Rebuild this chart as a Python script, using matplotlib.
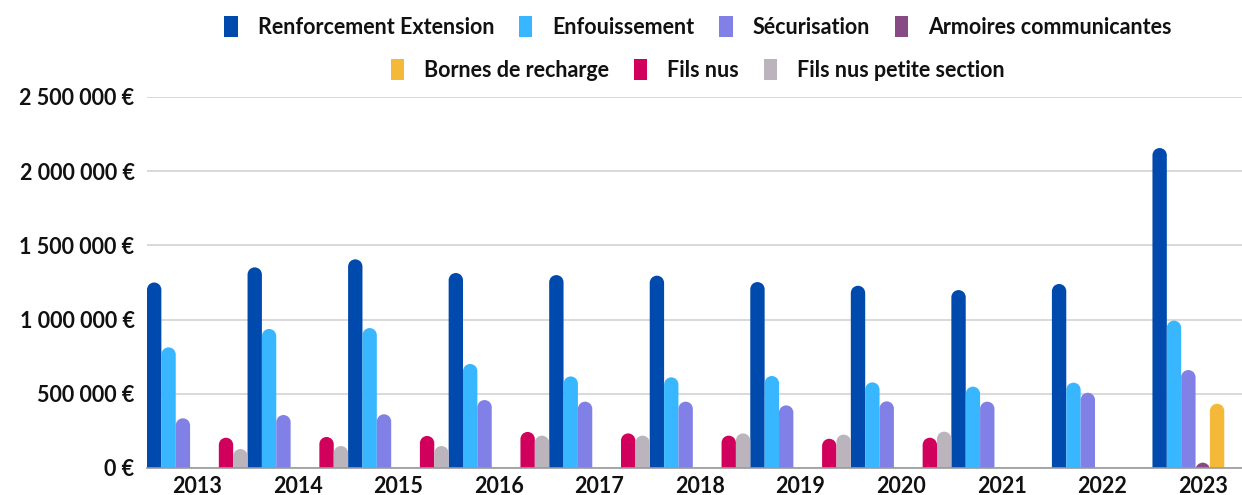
import numpy as np
import matplotlib.pyplot as plt
from matplotlib.path import Path
from matplotlib.patches import PathPatch, Rectangle
from matplotlib.ticker import FuncFormatter

plt.rcParams['font.family'] = ['Lato', 'DejaVu Sans']
plt.rcParams['font.weight'] = 'bold'

annees = ['2013', '2014', '2015', '2016', '2017', '2018', '2019', '2020', '2021', '2022', '2023']

series = ['Renforcement Extension', 'Enfouissement', 'Sécurisation', 'Armoires communicantes',
          'Bornes de recharge', 'Fils nus', 'Fils nus petite section']
couleurs = ['#004aad', '#38b6ff', '#8080e6', '#884a85', '#f4b938', '#d1005c', '#bbb4bc']

renforcement = [1250000, 1352000, 1406000, 1314000, 1300000, 1296000, 1253000, 1228000, 1199000, 1240000, 2156000]
enfouissement = [813000, 937000, 943000, 701000, 617000, 611000, 620000, 577000, 548000, 575000, 993000]
securisation = [335000, 357000, 362000, 458000, 447000, 447000, 422000, 449000, 447000, 507000, 660000]
armoires = [0, 0, 0, 0, 0, 0, 0, 0, 0, 0, 36000]
bornes = [0, 0, 0, 0, 0, 0, 0, 0, 0, 0, 433000]
fils_nus = [204000, 209000, 216000, 243000, 233000, 218000, 197000, 204000, 0, 0, 0]
petite_section = [128000, 148000, 148000, 218000, 218000, 233000, 225000, 245000, 0, 0, 0]

valeurs = [renforcement, enfouissement, securisation, armoires, bornes, fils_nus, petite_section]

fig = plt.figure(figsize=(12.42, 4.95), dpi=100)
ax = fig.add_axes([147 / 1242, 27 / 495, 1106 / 1242, 371 / 495])

ymax = 2500000
ax.set_xlim(-0.5, len(annees) - 0.5)
ax.set_ylim(0, ymax)

n = len(series)
largeur = 1.0 / n

# rayon de l'arrondi en unites de donnees (y), pour un demi-cercle en pixels
bbox = ax.get_window_extent()
larg_px = bbox.width / len(annees) / n
r_y = (larg_px / 2) * ymax / bbox.height


def barre_arrondie(x, hauteur, couleur):
    if hauteur <= 0:
        return
    x0, x1 = x - largeur / 2, x + largeur / 2
    base = min(0, hauteur - r_y) - r_y
    arc = Path.arc(0, 180)
    va = arc.vertices.copy()
    va[:, 0] = x + va[:, 0] * largeur / 2
    va[:, 1] = hauteur - r_y + va[:, 1] * r_y
    ca = arc.codes.copy()
    ca[0] = Path.LINETO
    verts = [(x0, base), (x1, base)] + [tuple(v) for v in va] + [(x0, base)]
    codes = [Path.MOVETO, Path.LINETO] + list(ca) + [Path.CLOSEPOLY]
    ax.add_patch(PathPatch(Path(verts, codes), facecolor=couleur, edgecolor='none', zorder=3))


for i, (vals, coul) in enumerate(zip(valeurs, couleurs)):
    for j, v in enumerate(vals):
        x = j - 0.5 + largeur * (i + 0.5)
        barre_arrondie(x, v, coul)

ax.set_xticks(range(len(annees)))
ax.set_xticklabels(annees)
ax.set_yticks(np.arange(0, ymax + 1, 500000))
ax.yaxis.set_major_formatter(FuncFormatter(lambda v, p: f'{int(v):,}'.replace(',', ' ') + ' €'))
ax.tick_params(axis='both', length=0, labelsize=15.5, colors='#111111')
ax.tick_params(axis='y', pad=9)
ax.tick_params(axis='x', pad=6)
ax.grid(axis='y', color='#d3d3d3', linewidth=1.2, zorder=0)
ax.set_axisbelow(True)
for s in ['top', 'right', 'left']:
    ax.spines[s].set_visible(False)
ax.spines['bottom'].set_color('#999999')
ax.spines['bottom'].set_linewidth(1.2)
ax.spines['bottom'].set_zorder(4)

poignees = [Rectangle((0, 0), 1, 1, facecolor=c, edgecolor='none') for c in couleurs]
opts = dict(frameon=False, handlelength=0.62, handleheight=1.16,
            handletextpad=0.93, columnspacing=1.15, borderpad=0, borderaxespad=0,
            prop={'weight': 'bold', 'size': 15.5})
leg1 = fig.legend(poignees[:4], series[:4], ncol=4, loc='center',
                  bbox_to_anchor=(698 / 1242, 1 - 27 / 495), **opts)
leg2 = fig.legend(poignees[4:], series[4:], ncol=3, loc='center',
                  bbox_to_anchor=(698 / 1242, 1 - 70 / 495), **opts)
for leg in (leg1, leg2):
    for t in leg.get_texts():
        t.set_color('#111111')

fig.savefig('out.png', dpi=100)
